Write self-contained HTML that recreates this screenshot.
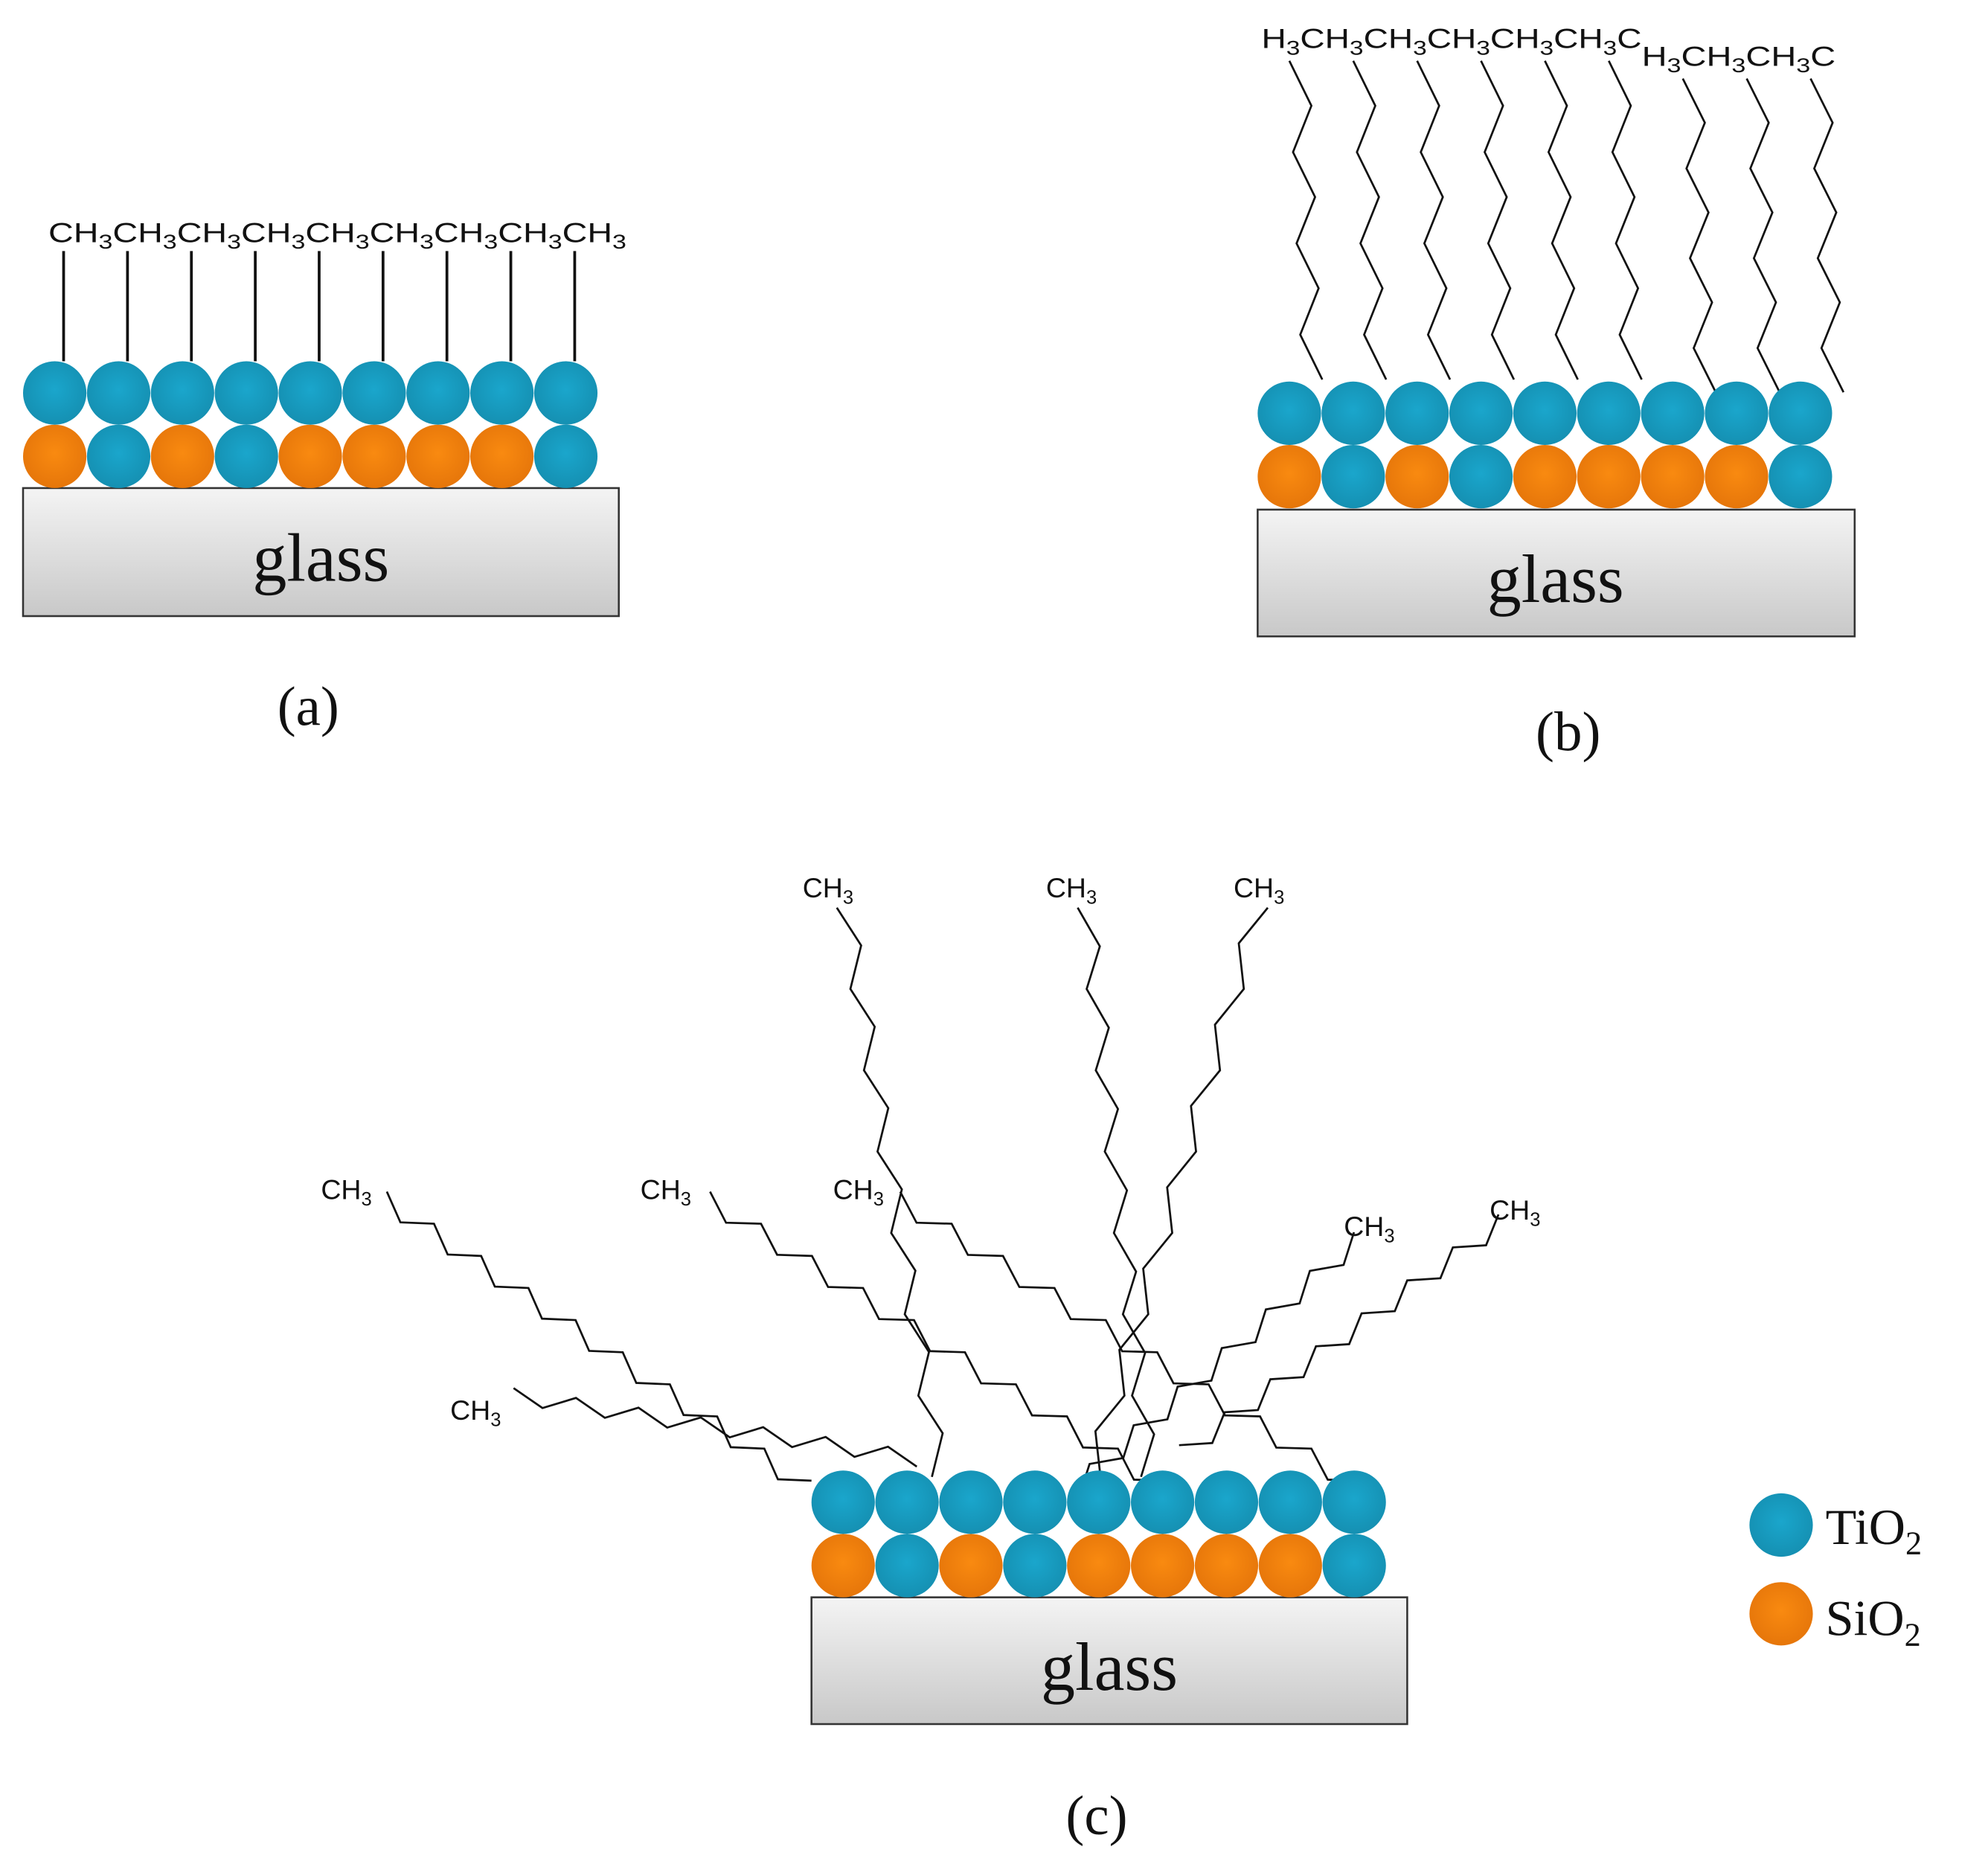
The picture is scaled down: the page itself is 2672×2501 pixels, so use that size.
<!DOCTYPE html>
<html><head><meta charset="utf-8"><style>
html,body{margin:0;padding:0;background:#fff;}
svg{display:block;}
.ch{font-family:"Liberation Sans",sans-serif;font-size:22px;fill:#111;}
.sv{font-family:"Liberation Serif",serif;fill:#111;}
</style></head><body>
<svg id="s" width="2672" height="2501" viewBox="0 0 1568 1468" xmlns="http://www.w3.org/2000/svg">
<defs>
<linearGradient id="gl" x1="0" y1="0" x2="0" y2="1"><stop offset="0" stop-color="#f4f4f4"/><stop offset="1" stop-color="#c8c8c8"/></linearGradient>
<radialGradient id="bl" cx="0.5" cy="0.45" r="0.55"><stop offset="0" stop-color="#1aa6cc"/><stop offset="1" stop-color="#1590b2"/></radialGradient>
<radialGradient id="or" cx="0.5" cy="0.45" r="0.55"><stop offset="0" stop-color="#f98a10"/><stop offset="1" stop-color="#e6760a"/></radialGradient>
</defs>
<g id="lines" stroke="#111" stroke-width="1.6" fill="none"></g>
<rect x="18" y="385" width="470" height="101" fill="url(#gl)" stroke="#333" stroke-width="1.5"/>
<text class="sv" x="253" y="458" font-size="54" text-anchor="middle">glass</text>
<text class="sv" x="243" y="572" font-size="44" text-anchor="middle">(a)</text>
<text class="ch" x="38" y="191" font-size="25" textLength="456" lengthAdjust="spacingAndGlyphs">CH<tspan font-size="16" dy="5">3</tspan><tspan dy="-5">CH</tspan><tspan font-size="16" dy="5">3</tspan><tspan dy="-5">CH</tspan><tspan font-size="16" dy="5">3</tspan><tspan dy="-5">CH</tspan><tspan font-size="16" dy="5">3</tspan><tspan dy="-5">CH</tspan><tspan font-size="16" dy="5">3</tspan><tspan dy="-5">CH</tspan><tspan font-size="16" dy="5">3</tspan><tspan dy="-5">CH</tspan><tspan font-size="16" dy="5">3</tspan><tspan dy="-5">CH</tspan><tspan font-size="16" dy="5">3</tspan><tspan dy="-5">CH</tspan><tspan font-size="16" dy="5">3</tspan></text>
<rect x="992" y="402" width="471" height="100" fill="url(#gl)" stroke="#333" stroke-width="1.5"/>
<text class="sv" x="1227" y="475" font-size="54" text-anchor="middle">glass</text>
<text class="sv" x="1237" y="592" font-size="44" text-anchor="middle">(b)</text>
<text class="ch" x="995" y="38" font-size="25" textLength="300" lengthAdjust="spacingAndGlyphs">H<tspan font-size="16" dy="5">3</tspan><tspan dy="-5">CH</tspan><tspan font-size="16" dy="5">3</tspan><tspan dy="-5">CH</tspan><tspan font-size="16" dy="5">3</tspan><tspan dy="-5">CH</tspan><tspan font-size="16" dy="5">3</tspan><tspan dy="-5">CH</tspan><tspan font-size="16" dy="5">3</tspan><tspan dy="-5">CH</tspan><tspan font-size="16" dy="5">3</tspan><tspan dy="-5">C</tspan></text>
<text class="ch" x="1295" y="52" font-size="25" textLength="153" lengthAdjust="spacingAndGlyphs">H<tspan font-size="16" dy="5">3</tspan><tspan dy="-5">CH</tspan><tspan font-size="16" dy="5">3</tspan><tspan dy="-5">CH</tspan><tspan font-size="16" dy="5">3</tspan><tspan dy="-5">C</tspan></text>
<rect x="640" y="1260" width="470" height="100" fill="url(#gl)" stroke="#333" stroke-width="1.5"/>
<text class="sv" x="875" y="1333" font-size="54" text-anchor="middle">glass</text>
<text class="sv" x="865" y="1447" font-size="44" text-anchor="middle">(c)</text>
<g class="ch">
<text x="633" y="708">CH<tspan font-size="15" dy="5">3</tspan></text>
<text x="825" y="708">CH<tspan font-size="15" dy="5">3</tspan></text>
<text x="973" y="708">CH<tspan font-size="15" dy="5">3</tspan></text>
<text x="253" y="946">CH<tspan font-size="15" dy="5">3</tspan></text>
<text x="505" y="946">CH<tspan font-size="15" dy="5">3</tspan></text>
<text x="657" y="946">CH<tspan font-size="15" dy="5">3</tspan></text>
<text x="1060" y="975">CH<tspan font-size="15" dy="5">3</tspan></text>
<text x="1175" y="962">CH<tspan font-size="15" dy="5">3</tspan></text>
<text x="355" y="1120">CH<tspan font-size="15" dy="5">3</tspan></text>
</g>
<circle cx="1405" cy="1203" r="25" fill="url(#bl)"/>
<circle cx="1405" cy="1273" r="25" fill="url(#or)"/>
<text class="sv" x="1440" y="1218" font-size="40">TiO<tspan font-size="26" dy="8">2</tspan></text>
<text class="sv" x="1440" y="1290" font-size="40">SiO<tspan font-size="26" dy="8">2</tspan></text>
<g id="circ"></g>
</svg>
<script>
(function(){
var NS="http://www.w3.org/2000/svg";
var L=document.getElementById("lines"),C=document.getElementById("circ");
function el(p,t,a){var e=document.createElementNS(NS,t);for(var k in a)e.setAttribute(k,a[k]);p.appendChild(e);return e;}
var pat=["o","b","o","b","o","o","o","o","b"];
function rows(x0,yt,yb){for(var i=0;i<9;i++){var x=x0+50.4*i;
el(C,"circle",{cx:x,cy:yb,r:25,fill:pat[i]=="o"?"url(#or)":"url(#bl)"});
el(C,"circle",{cx:x,cy:yt,r:25,fill:"url(#bl)"});}}
rows(43,310,360);rows(1017,326,376);rows(665,1185,1235);
for(var i=0;i<9;i++){var x=50+50.4*i;el(L,"line",{x1:x,y1:198,x2:x,y2:285,"stroke-width":2.2});}
function zig(x1,y1,x2,y2,n,amp){var dx=x2-x1,dy=y2-y1,len=Math.sqrt(dx*dx+dy*dy);var px=-dy/len,py=dx/len;var pts=[];
for(var k=0;k<=n;k++){var t=k/n;var o=(k%2)?amp:0;pts.push((x1+dx*t+px*o).toFixed(1)+","+(y1+dy*t+py*o).toFixed(1));}
el(L,"polyline",{points:pts.join(" ")});}
for(var j=0;j<9;j++){var xx=1027+50.4*j;var ty=j<6?48:62;var by=j<6?300:310;var bx=j<6?xx:xx+8;
zig(bx-10,ty,bx,by,7,-16);}
zig(660,716,735,1165,14,-14);
zig(850,716,900,1165,14,-14);
zig(1000,716,868,1165,14,14);
zig(305,940,640,1168,18,14);
zig(560,940,922,1168,18,14);
zig(710,940,1075,1168,18,14);
zig(1068,972,842,1170,13,-14);
zig(1182,958,930,1140,14,-14);
zig(405,1095,725,1145,13,12);
})();
</script>
</body></html>
